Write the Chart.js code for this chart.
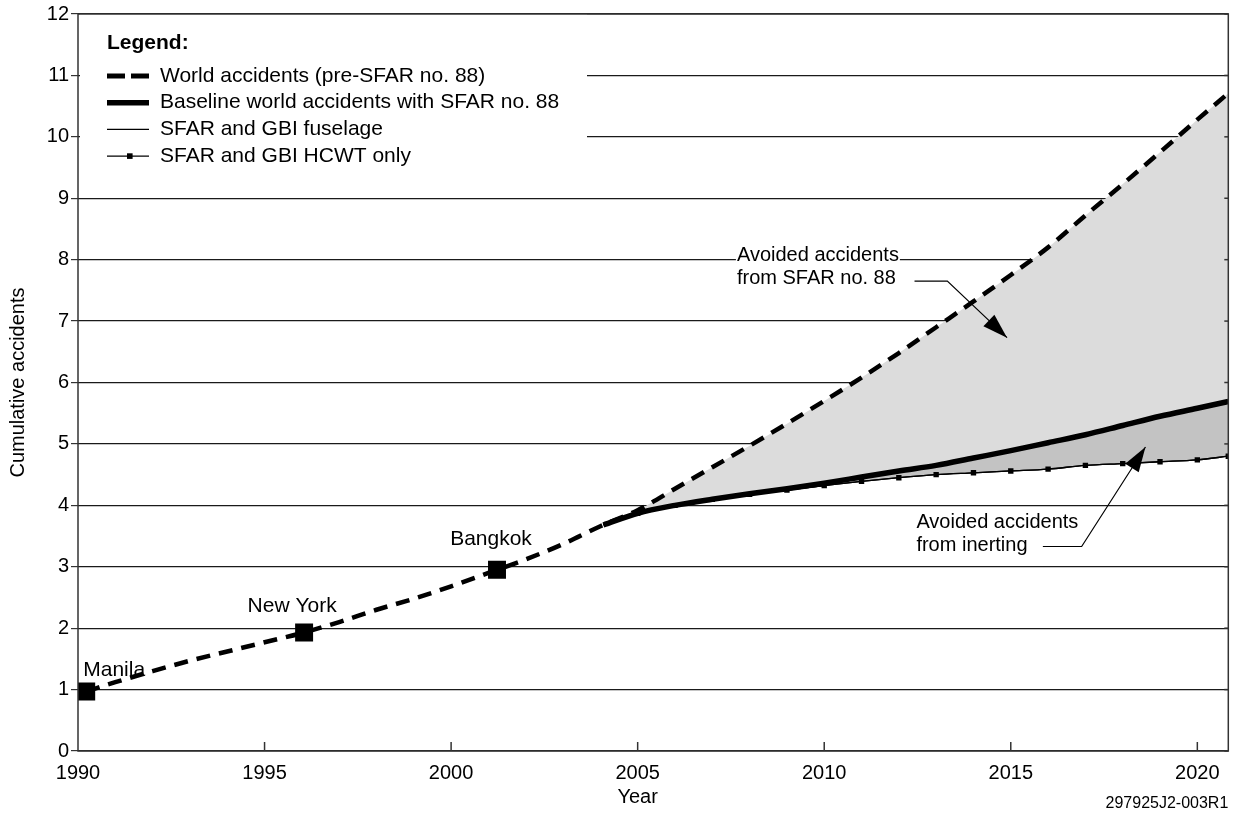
<!DOCTYPE html>
<html>
<head>
<meta charset="utf-8">
<script src="https://cdn.jsdelivr.net/npm/chart.js@4.4.1/dist/chart.umd.min.js"></script>
<style>
    html, body { margin: 0; padding: 0; background: #fff; }
</style>
</head>
<body>
<canvas id="myChart" width="1241" height="818"></canvas>
<script>
// data
const worldYears = [1990.22, 1991, 1992, 1993, 1994, 1995, 1996, 1997, 1998, 1999, 2000, 2001, 2002, 2003, 2004, 2005, 2006, 2007, 2008, 2009, 2010, 2011, 2012, 2013, 2014, 2015, 2016, 2017, 2018, 2019, 2020, 2020.83]
const worldValues = [0.97, 1.12, 1.3, 1.47, 1.62, 1.77, 1.92, 2.1, 2.3, 2.48, 2.68, 2.9, 3.12, 3.37, 3.66, 3.92, 4.27, 4.62, 4.97, 5.33, 5.7, 6.08, 6.48, 6.9, 7.32, 7.75, 8.2, 8.72, 9.23, 9.75, 10.28, 10.71]

const baselineYears = [2004.08, 2005, 2006, 2007, 2008, 2009, 2010, 2011, 2012, 2013, 2014, 2015, 2016, 2017, 2018, 2019, 2020, 2020.83]
const baselineValues = [3.68, 3.87, 4.0, 4.1, 4.19, 4.27, 4.36, 4.46, 4.56, 4.65, 4.77, 4.89, 5.02, 5.15, 5.3, 5.45, 5.58, 5.69]

const inertYears = [2004.08, 2005, 2006, 2007, 2008, 2009, 2010, 2011, 2012, 2013, 2014, 2015, 2016, 2017, 2018, 2019, 2020, 2020.83]
const fuselageValues = [3.68, 3.87, 4.0, 4.1, 4.18, 4.25, 4.32, 4.39, 4.45, 4.5, 4.53, 4.56, 4.59, 4.65, 4.68, 4.71, 4.74, 4.8]
const hcwtValues = [3.68, 3.87, 4.0, 4.1, 4.18, 4.25, 4.32, 4.39, 4.45, 4.5, 4.53, 4.56, 4.59, 4.65, 4.68, 4.71, 4.74, 4.8]

const cityNames = ["Manila", "New York", "Bangkok"]
const cityYears = [1990.22, 1996.06, 2001.23]
const cityValues = [0.97, 1.93, 2.95]

const seriesLabels = ["World accidents (pre-SFAR no. 88)", "Baseline world accidents with SFAR no. 88", "SFAR and GBI fuselage", "SFAR and GBI HCWT only"]
const xTitle = "Year"
const yTitle = "Cumulative accidents"
const figureId = "297925J2-003R1"

const FONT = '"Liberation Sans", Arial, Helvetica, sans-serif'

// annotation callouts, anchored in data units
const notes = [
    { lines: ["Avoided accidents", "from SFAR no. 88"], at: [2007.66, 8.07], knockout: true,
      leader: [[2012.42, 7.65], [2013.3, 7.65], [2014.9, 6.73]] },
    { lines: ["Avoided accidents", "from inerting"], at: [2012.47, 3.72], knockout: false,
      leader: [[2015.86, 3.33], [2016.9, 3.33], [2018.61, 4.95]] }
]
// label offsets (px) from each city marker
const cityLabelOffsets = [[-3, -21, "left"], [-12, -26, "center"], [-6, -31, "center"]]

function main() {
    buildChart("myChart")
}

function toPoints(xs, ys) {
    return xs.map((x, i) => ({ x: x, y: ys[i] }))
}

function line(ctx, x1, y1, x2, y2) {
    ctx.beginPath()
    ctx.moveTo(x1, y1)
    ctx.lineTo(x2, y2)
    ctx.stroke()
}

function arrow(ctx, pts, head, half) {
    ctx.beginPath()
    ctx.moveTo(pts[0][0], pts[0][1])
    for (let i = 1; i < pts.length; i++) ctx.lineTo(pts[i][0], pts[i][1])
    ctx.stroke()
    const [x1, y1] = pts[pts.length - 2]
    const [x2, y2] = pts[pts.length - 1]
    const a = Math.atan2(y2 - y1, x2 - x1)
    const c = Math.cos(a), s = Math.sin(a)
    ctx.beginPath()
    ctx.moveTo(x2, y2)
    ctx.lineTo(x2 - head * c + half * s, y2 - head * s - half * c)
    ctx.lineTo(x2 - head * c - half * s, y2 - head * s + half * c)
    ctx.closePath()
    ctx.fill()
}

const decor = {
    id: "decor",
    afterDatasetsDraw(chart) {
        const { ctx, chartArea: a, scales: { x, y } } = chart
        ctx.save()

        // legend box (hides grid lines behind it)
        ctx.fillStyle = "#fff"
        ctx.fillRect(80, 14, 507, 176)
        ctx.fillStyle = "#000"
        ctx.textBaseline = "middle"
        ctx.textAlign = "left"
        ctx.font = "bold 21px " + FONT
        ctx.fillText("Legend:", 107, 43)
        ctx.font = "21px " + FONT
        ctx.strokeStyle = "#000"
        seriesLabels.forEach((lab, i) => {
            const ly = 76 + i * 26.7
            if (i === 0) {
                ctx.lineWidth = 5
                line(ctx, 107, ly, 125, ly)
                line(ctx, 131, ly, 149, ly)
            } else if (i === 1) {
                ctx.lineWidth = 5.5
                line(ctx, 107, ly, 149, ly)
            } else {
                ctx.lineWidth = 1.4
                line(ctx, 107, ly, 149, ly)
                if (i === 3) ctx.fillRect(127, ly - 2.8, 5.6, 5.6)
            }
            ctx.fillText(lab, 160, ly)
        })

        // frame and inward ticks
        ctx.strokeStyle = "#333"
        ctx.lineWidth = 1.5
        x.ticks.forEach(t => {
            if (t.value <= x.min) return
            const px = x.getPixelForValue(t.value)
            line(ctx, px, a.bottom, px, a.bottom - 9)
        })
        y.ticks.forEach(t => {
            const py = y.getPixelForValue(t.value)
            line(ctx, a.right, py, a.right - 4, py)
        })
        ctx.strokeRect(a.left, a.top, a.right - a.left, a.bottom - a.top)

        // callouts
        ctx.font = "20px " + FONT
        ctx.strokeStyle = "#000"
        ctx.lineWidth = 1.2
        notes.forEach(n => {
            const tx = x.getPixelForValue(n.at[0])
            const ty = y.getPixelForValue(n.at[1])
            n.lines.forEach((txt, i) => {
                const yy = ty + i * 23
                if (n.knockout && i === 0) {
                    const w = ctx.measureText(txt).width
                    ctx.fillStyle = "#fff"
                    ctx.fillRect(tx - 1, yy - 10, w + 2, 21)
                }
                ctx.fillStyle = "#000"
                ctx.fillText(txt, tx, yy)
            })
            const pts = n.leader.map(p => [x.getPixelForValue(p[0]), y.getPixelForValue(p[1])])
            arrow(ctx, pts, 25, 8)
        })

        // city labels
        ctx.font = "21px " + FONT
        cityNames.forEach((name, i) => {
            const px = x.getPixelForValue(cityYears[i])
            const py = y.getPixelForValue(cityValues[i])
            const off = cityLabelOffsets[i]
            ctx.textAlign = off[2]
            ctx.fillText(name, px + off[0], py + off[1])
        })

        // x title and figure id
        ctx.font = "20px " + FONT
        ctx.textAlign = "center"
        ctx.fillText(xTitle, (x.getPixelForValue(1990) + x.getPixelForValue(2020)) / 2, 797)
        ctx.font = "16px " + FONT
        ctx.textAlign = "right"
        ctx.fillText(figureId, a.right, 804)
        ctx.restore()
    }
}

function buildChart(canvasId) {
    const ctx = document.getElementById(canvasId)
    const hcwtRadius = inertYears.map((v, i) => i === 0 ? 0 : 3.8)

    new Chart(ctx, {
        type: "line",
        data: {
            datasets: [
                {
                    label: "Accidents",
                    data: toPoints(cityYears, cityValues),
                    showLine: false,
                    pointStyle: "rect",
                    pointRadius: 12.7,
                    pointBackgroundColor: "#000",
                    pointBorderWidth: 0
                },
                {
                    label: seriesLabels[0],
                    data: toPoints(worldYears, worldValues),
                    borderColor: "#000",
                    borderWidth: 4.5,
                    borderDash: [14, 9],
                    pointRadius: 0,
                    cubicInterpolationMode: "monotone",
                    fill: false
                },
                {
                    label: seriesLabels[1],
                    data: toPoints(baselineYears, baselineValues),
                    borderColor: "#000",
                    borderWidth: 5.5,
                    pointRadius: 0,
                    cubicInterpolationMode: "monotone",
                    fill: { target: 1 },
                    backgroundColor: "#dcdcdc"
                },
                {
                    label: seriesLabels[2],
                    data: toPoints(inertYears, fuselageValues),
                    borderColor: "#000",
                    borderWidth: 1.3,
                    pointRadius: 0,
                    cubicInterpolationMode: "monotone",
                    fill: false
                },
                {
                    label: seriesLabels[3],
                    data: toPoints(inertYears, hcwtValues),
                    borderColor: "#000",
                    borderWidth: 1.3,
                    pointStyle: "rect",
                    pointRadius: hcwtRadius,
                    pointBackgroundColor: "#000",
                    pointBorderWidth: 0,
                    cubicInterpolationMode: "monotone",
                    fill: { target: 2 },
                    backgroundColor: "#c3c3c3"
                }
            ]
        },
        options: {
            responsive: false,
            devicePixelRatio: 1,
            animation: false,
            events: [],
            layout: { padding: { top: 12, right: 9, left: 0, bottom: 0 } },
            plugins: {
                legend: { display: false },
                tooltip: { enabled: false }
            },
            scales: {
                x: {
                    type: "linear",
                    min: 1990,
                    max: 2020.83,
                    ticks: {
                        stepSize: 5,
                        includeBounds: false,
                        autoSkip: false,
                        maxRotation: 0,
                        padding: 10,
                        color: "#000",
                        font: { family: FONT, size: 20 },
                        callback: v => String(v)
                    },
                    grid: { display: false, drawTicks: false },
                    border: { display: false },
                    afterFit(s) { s.height = 67 }
                },
                y: {
                    min: 0,
                    max: 12,
                    ticks: {
                        stepSize: 1,
                        padding: 2,
                        color: "#000",
                        font: { family: FONT, size: 20 }
                    },
                    grid: { color: "#1a1a1a", lineWidth: 1.2, tickLength: 7, tickColor: "#333" },
                    border: { display: false },
                    title: {
                        display: true,
                        text: yTitle,
                        color: "#000",
                        font: { family: FONT, size: 20 },
                        padding: { top: 6, bottom: 0 }
                    },
                    afterFit(s) { s.width = 78 }
                }
            }
        },
        plugins: [decor]
    })
}

document.addEventListener("DOMContentLoaded", main)
</script>
</body>
</html>
